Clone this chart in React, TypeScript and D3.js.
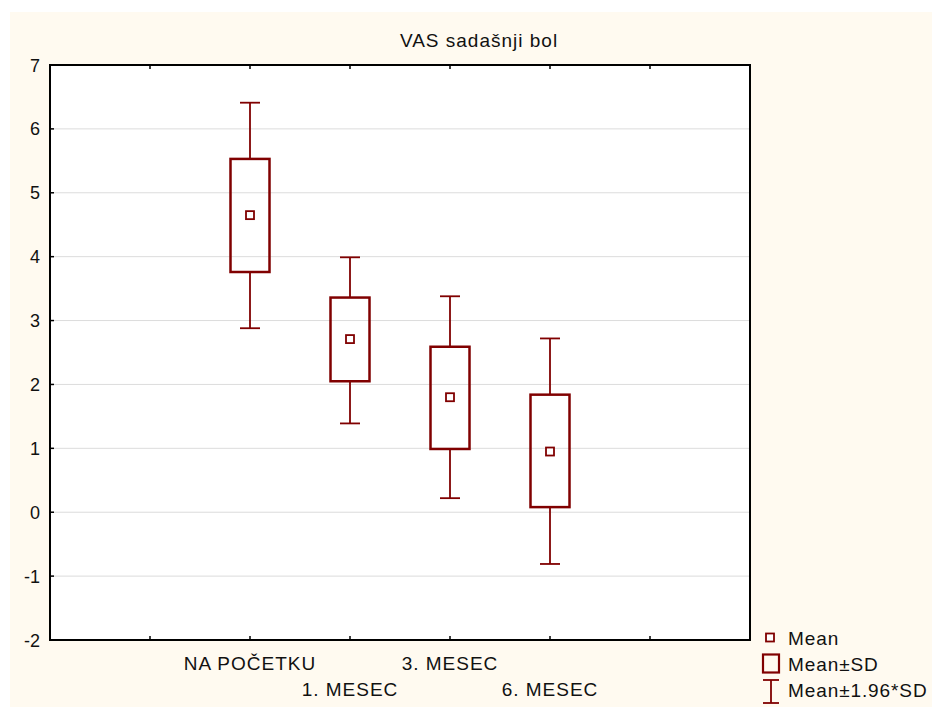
import React from "react";
import * as d3 from "d3";

const categories = ["NA POČETKU", "1. MESEC", "3. MESEC", "6. MESEC"];
const means = [4.65, 2.71, 1.8, 0.95];
const sdLow = [3.76, 2.05, 0.99, 0.08];
const sdHigh = [5.53, 3.36, 2.59, 1.84];
const ciLow = [2.88, 1.39, 0.22, -0.81];
const ciHigh = [6.41, 3.99, 3.38, 2.72];
const yTicks = [-2, -1, 0, 1, 2, 3, 4, 5, 6, 7];
const legendItems = ["Mean", "Mean±SD", "Mean±1.96*SD"];

const W = 932;
const H = 707;
const left = 50;
const right = 750;
const top = 65;
const bottom = 640;
const RED = "#800000";
const FONT = "'Liberation Sans', Arial, sans-serif";

export default function App() {
  const y = d3.scaleLinear().domain([-2, 7]).range([bottom, top]);
  const x = d3.scaleLinear().domain([0, 7]).range([left, right]);
  const xTickVals = d3.range(1, 7);
  const boxW = 39;
  const capW = 20;
  const m = 8;

  return (
    <svg
      width={W}
      height={H}
      style={{ position: "absolute", left: 0, top: 0 }}
      fontFamily={FONT}
    >
      <rect x={0} y={0} width={W} height={H} fill="#ffffff" />
      <rect x={10} y={12} width={W - 10} height={H - 12} fill="#fffaf0" />
      <rect x={left} y={top} width={right - left} height={bottom - top} fill="#ffffff" />
      {yTicks
        .filter((t) => t > -2 && t < 7)
        .map((t) => (
          <line key={"g" + t} x1={left} x2={right} y1={y(t)} y2={y(t)} stroke="#dcdcdc" strokeWidth={1} />
        ))}
      <text x={479} y={47} textAnchor="middle" fontSize={19} letterSpacing={1} fill="#111">
        VAS sadašnji bol
      </text>
      {yTicks.map((t) => (
        <g key={"y" + t}>
          <line x1={left} x2={left + 4} y1={y(t)} y2={y(t)} stroke="#000" strokeWidth={1.5} />
          <text x={40} y={y(t) + 6.5} textAnchor="end" fontSize={18} fill="#111">
            {t}
          </text>
        </g>
      ))}
      {xTickVals.map((t) => (
        <g key={"x" + t}>
          <line x1={x(t)} x2={x(t)} y1={top} y2={top + 4} stroke="#000" strokeWidth={1.5} />
          <line x1={x(t)} x2={x(t)} y1={bottom} y2={bottom - 4} stroke="#000" strokeWidth={1.5} />
        </g>
      ))}
      {categories.map((c, i) => {
        const cx = x(i + 2);
        return (
          <g key={c}>
            <line x1={cx} x2={cx} y1={y(ciHigh[i])} y2={y(sdHigh[i])} stroke={RED} strokeWidth={1.8} />
            <line x1={cx} x2={cx} y1={y(sdLow[i])} y2={y(ciLow[i])} stroke={RED} strokeWidth={1.8} />
            <line x1={cx - capW / 2} x2={cx + capW / 2} y1={y(ciHigh[i])} y2={y(ciHigh[i])} stroke={RED} strokeWidth={1.8} />
            <line x1={cx - capW / 2} x2={cx + capW / 2} y1={y(ciLow[i])} y2={y(ciLow[i])} stroke={RED} strokeWidth={1.8} />
            <rect
              x={cx - boxW / 2}
              y={y(sdHigh[i])}
              width={boxW}
              height={y(sdLow[i]) - y(sdHigh[i])}
              fill="none"
              stroke={RED}
              strokeWidth={2.5}
            />
            <rect x={cx - m / 2} y={y(means[i]) - m / 2} width={m} height={m} fill="#fff" stroke={RED} strokeWidth={1.8} />
            <text
              x={cx}
              y={i % 2 === 0 ? 670 : 696}
              textAnchor="middle"
              fontSize={19}
              letterSpacing={1}
              fill="#111"
            >
              {c}
            </text>
          </g>
        );
      })}
      <rect x={left} y={top} width={right - left} height={bottom - top} fill="none" stroke="#000" strokeWidth={2} />
      <rect x={766} y={633.5} width={8} height={8} fill="#fff" stroke={RED} strokeWidth={1.8} />
      <rect x={763} y={654.5} width={16} height={18} fill="none" stroke={RED} strokeWidth={2.2} />
      <line x1={763} x2={779} y1={680} y2={680} stroke={RED} strokeWidth={1.8} />
      <line x1={771} x2={771} y1={680} y2={703} stroke={RED} strokeWidth={1.8} />
      <line x1={763} x2={779} y1={703} y2={703} stroke={RED} strokeWidth={1.8} />
      {legendItems.map((t, i) => (
        <text key={t} x={788} y={[645, 671, 697][i]} fontSize={19} letterSpacing={0.9} fill="#111">
          {t}
        </text>
      ))}
    </svg>
  );
}
